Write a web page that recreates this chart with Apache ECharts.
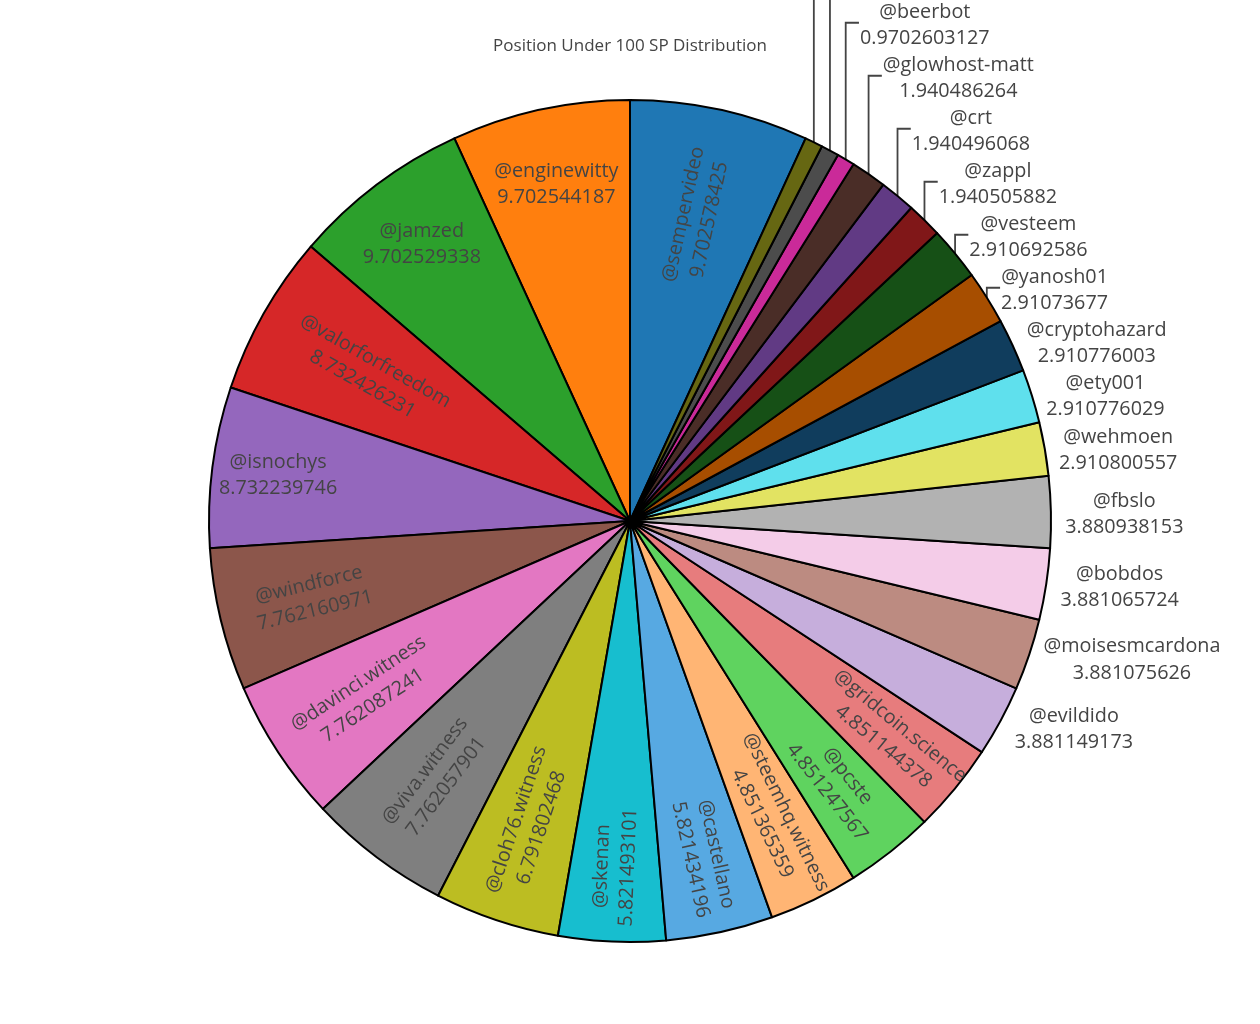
<!DOCTYPE html>
<html>
<head>
<meta charset="utf-8">
<script src="https://cdn.jsdelivr.net/npm/echarts@6/dist/echarts.min.js"></script>
<style>
html,body{margin:0;padding:0;background:#fff;}
#chart{width:1260px;height:1024px;}
</style>
</head>
<body>
<div id="chart"></div>
<script>
// ---- data ----
const titleText = 'Position Under 100 SP Distribution';
const names = [
  '@sempervideo', '@enginewitty', '@jamzed', '@valorforfreedom', '@isnochys',
  '@windforce', '@davinci.witness', '@viva.witness', '@cloh76.witness', '@skenan',
  '@castellano', '@steemhq.witness', '@pcste', '@gridcoin.science', '@evildido',
  '@moisesmcardona', '@bobdos', '@fbslo', '@wehmoen', '@ety001',
  '@cryptohazard', '@yanosh01', '@vesteem', '@zappl', '@crt',
  '@glowhost-matt', '@beerbot', '@other-1', '@other-2'
];
const values = [
  9.702578425, 9.702544187, 9.702529338, 8.732426231, 8.732239746,
  7.762160971, 7.762087241, 7.762057901, 6.791802468, 5.821493101,
  5.821434196, 4.851365359, 4.851247567, 4.851144378, 3.881149173,
  3.881075626, 3.881065724, 3.880938153, 2.910800557, 2.910776029,
  2.910776003, 2.91073677, 2.910692586, 1.940505882, 1.940496068,
  1.940486264, 0.9702603127, 0.9702554, 0.9702456
];

// ---- style ----
const colors = [
  '#1f77b4', '#ff7f0e', '#2ca02c', '#d62728', '#9467bd', '#8c564b', '#e377c2', '#7f7f7f', '#bcbd22', '#17becf',
  '#57a9e2', '#ffb574', '#5fd35f', '#e77c7d', '#c6aedc', '#bc8b81', '#f4cce8', '#b2b2b2', '#e2e362', '#5fe0ed',
  '#103d5d', '#a74e00', '#165016', '#801718', '#613a84', '#4a2d27', '#ca2a99', '#4c4c4c', '#666712'
];
const insideCount = 14;
const horizontalLabels = ['@enginewitty', '@jamzed', '@isnochys'];
const insideLabelRadius = [0.739, 0.819, 0.822, 0.713, 0.843, 0.777, 0.751, 0.767, 0.758, 0.822, 0.817, 0.784, 0.796, 0.805];
const CX = 630, CY = 521, R = 421;
const FONT = 'Open Sans';
const FS = 19.8, LH = 26.5;
const H = 2 * LH; // label block height
const OUT_TEXT_DY = 2.5;

// ---- geometry helpers (angles from data) ----
const RAD = Math.PI / 180;
const total = values.reduce((s, v) => s + v, 0);
const startAngle = 90 - 360 * values[0] / total;
const mid = [];
let acc = startAngle;
values.forEach(v => {
  const a = 360 * v / total;
  mid.push(((acc + a / 2) % 360 + 360) % 360);
  acc += a;
});

const outPos = {};
let prev = Infinity;
for (let i = insideCount; i < values.length; i++) {
  const t = mid[i] * RAD, s = Math.sin(t);
  if (s < 0) continue;
  const ex = CX + R * Math.cos(t), ey = CY - R * s;
  const nat = ey - H / 2 * s * s;
  const y = Math.min(nat, prev - H);
  outPos[i] = { ex, ey, y, pushed: y < nat - 0.5 };
  prev = y;
}
prev = -Infinity;
for (let i = values.length - 1; i >= insideCount; i--) {
  const t = mid[i] * RAD, s = Math.sin(t);
  if (s >= 0) continue;
  const ex = CX + R * Math.cos(t), ey = CY - R * s;
  const nat = ey + H / 2 * s * s;
  const y = Math.max(nat, prev + H);
  outPos[i] = { ex, ey, y, pushed: y > nat + 0.5 };
  prev = y;
}

const data = names.map((n, i) => {
  const inside = i < insideCount;
  return {
    name: n,
    value: values[i],
    label: inside
      ? { position: 'inside', rotate: horizontalLabels.includes(n) ? 0 : 'radial' }
      : { position: 'outside', rotate: 0 },
    labelLine: { show: !inside && outPos[i] && outPos[i].pushed }
  };
});

const chart = echarts.init(document.getElementById('chart'), null, { renderer: 'canvas' });
chart.setOption({
  animation: false,
  backgroundColor: '#fff',
  color: colors,
  title: {
    text: titleText,
    left: 'center',
    top: 33,
    textStyle: { fontFamily: FONT, fontSize: 17, fontWeight: 'normal', color: '#444' }
  },
  series: [{
    type: 'pie',
    center: [CX, CY],
    radius: R,
    startAngle: startAngle,
    clockwise: false,
    avoidLabelOverlap: false,
    silent: true,
    emphasis: { disabled: true },
    itemStyle: { borderColor: '#000', borderWidth: 2 },
    label: {
      show: true,
      fontFamily: FONT,
      fontSize: FS,
      lineHeight: LH,
      color: '#444',
      textBorderWidth: 0,
      formatter: p => p.name + '\n' + String(p.value)
    },
    labelLine: { lineStyle: { color: '#444', width: 1.8 } },
    labelLayout: function (p) {
      const i = p.dataIndex;
      const t = mid[i] * RAD;
      if (i < insideCount) {
        const r = R * insideLabelRadius[i];
        return { x: CX + r * Math.cos(t), y: CY - r * Math.sin(t), align: 'center', verticalAlign: 'middle' };
      }
      const o = outPos[i];
      const w = p.labelRect.width;
      const left = o.ex + H / 4;
      const res = { x: left + 1 + w / 2, y: o.y + OUT_TEXT_DY, align: 'center', verticalAlign: 'middle' };
      if (o.pushed) res.labelLinePoints = [[o.ex, o.ey], [o.ex, o.y], [left, o.y]];
      return res;
    },
    data: data
  }]
});
</script>
</body>
</html>
